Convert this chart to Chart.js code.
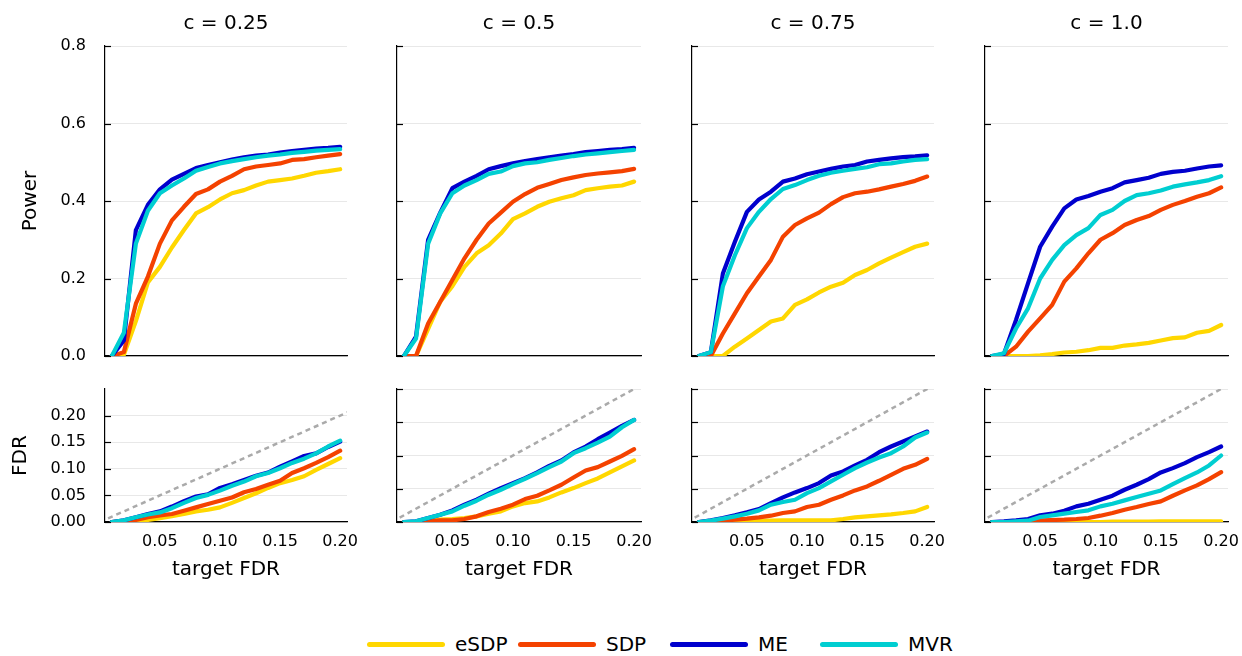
<!DOCTYPE html>
<html>
<head>
<meta charset="utf-8">
<script src="https://cdn.jsdelivr.net/npm/chart.js@4.4.1/dist/chart.umd.min.js"></script>
<style>
    body { margin: 0; background: #fff; }
    #page { position: relative; width: 1242px; height: 656px; overflow: hidden; font-family: 'DejaVu Sans', sans-serif; }
    #page canvas { position: absolute; }
    .leg-item { position: absolute; top: 630px; height: 28px; display: flex; align-items: center; font-size: 20px; color: #000; }
    .leg-line { width: 78px; height: 5px; border-radius: 3px; margin-right: 10px; }
</style>
</head>
<body>
<div id="page"></div>
<script>
// ---- data ----
const targetFdr = [0.01, 0.02, 0.03, 0.04, 0.05, 0.06, 0.07, 0.08, 0.09, 0.10,
                   0.11, 0.12, 0.13, 0.14, 0.15, 0.16, 0.17, 0.18, 0.19, 0.20];
const panelTitles = ['c = 0.25', 'c = 0.5', 'c = 0.75', 'c = 1.0'];
const methods = ['eSDP', 'SDP', 'ME', 'MVR'];
const methodColors = ['#ffd700', '#f44200', '#0000cd', '#00ced1'];

const xTicks = [0.05, 0.10, 0.15, 0.20];
const powerTicks = [0, 0.2, 0.4, 0.6, 0.8];
const fdrTicks = [0, 0.05, 0.10, 0.15, 0.20];
const fdrMax = [0.25, 0.2, 0.2, 0.2];

// one row per c value
const powerESDP = [
    [0, 0.003, 0.09, 0.19, 0.23, 0.28, 0.325, 0.368, 0.384, 0.404, 0.42, 0.428, 0.44, 0.45, 0.454, 0.458, 0.465, 0.473, 0.477, 0.482],
    [0, 0, 0.07, 0.14, 0.18, 0.23, 0.265, 0.286, 0.316, 0.353, 0.368, 0.385, 0.398, 0.407, 0.415, 0.428, 0.433, 0.437, 0.44, 0.45],
    [0, 0, 0, 0.024, 0.045, 0.067, 0.089, 0.097, 0.132, 0.146, 0.164, 0.179, 0.189, 0.209, 0.222, 0.239, 0.254, 0.268, 0.282, 0.29],
    [0, 0, 0, 0, 0.002, 0.005, 0.009, 0.011, 0.015, 0.021, 0.021, 0.027, 0.03, 0.034, 0.04, 0.046, 0.048, 0.06, 0.065, 0.08]
];
const powerSDP = [
    [0, 0.01, 0.135, 0.205, 0.29, 0.35, 0.385, 0.418, 0.43, 0.45, 0.465, 0.482, 0.489, 0.493, 0.497, 0.506, 0.508, 0.513, 0.517, 0.521],
    [0, 0, 0.084, 0.14, 0.196, 0.252, 0.30, 0.342, 0.37, 0.398, 0.418, 0.434, 0.444, 0.454, 0.461, 0.467, 0.471, 0.474, 0.477, 0.483],
    [0, 0, 0.058, 0.11, 0.162, 0.205, 0.248, 0.308, 0.338, 0.355, 0.37, 0.392, 0.41, 0.42, 0.424, 0.43, 0.437, 0.444, 0.452, 0.463],
    [0, 0, 0.024, 0.063, 0.097, 0.132, 0.192, 0.226, 0.265, 0.30, 0.317, 0.338, 0.351, 0.361, 0.377, 0.39, 0.40, 0.411, 0.42, 0.435]
];
const powerME = [
    [0, 0.04, 0.325, 0.39, 0.43, 0.455, 0.47, 0.485, 0.493, 0.50, 0.507, 0.513, 0.517, 0.52, 0.525, 0.529, 0.532, 0.535, 0.537, 0.54],
    [0, 0.05, 0.30, 0.37, 0.433, 0.45, 0.465, 0.482, 0.49, 0.497, 0.503, 0.508, 0.513, 0.517, 0.521, 0.526, 0.529, 0.532, 0.534, 0.537],
    [0, 0.01, 0.213, 0.295, 0.372, 0.404, 0.424, 0.45, 0.458, 0.469, 0.476, 0.483, 0.489, 0.493, 0.502, 0.506, 0.51, 0.513, 0.515, 0.518],
    [0, 0.005, 0.093, 0.188, 0.282, 0.334, 0.381, 0.404, 0.413, 0.424, 0.433, 0.448, 0.454, 0.46, 0.47, 0.475, 0.478, 0.484, 0.489, 0.492]
];
const powerMVR = [
    [0, 0.06, 0.29, 0.375, 0.42, 0.44, 0.458, 0.478, 0.488, 0.497, 0.503, 0.508, 0.513, 0.517, 0.52, 0.524, 0.527, 0.53, 0.532, 0.534],
    [0, 0.045, 0.29, 0.368, 0.42, 0.44, 0.454, 0.47, 0.476, 0.49, 0.497, 0.50, 0.506, 0.511, 0.516, 0.52, 0.523, 0.526, 0.529, 0.532],
    [0, 0.01, 0.18, 0.26, 0.33, 0.372, 0.405, 0.431, 0.441, 0.454, 0.465, 0.473, 0.478, 0.483, 0.487, 0.495, 0.497, 0.502, 0.506, 0.508],
    [0, 0.007, 0.071, 0.123, 0.20, 0.248, 0.286, 0.312, 0.33, 0.364, 0.377, 0.40, 0.415, 0.42, 0.427, 0.437, 0.443, 0.448, 0.454, 0.464]
];

const fdrESDP = [
    [0, 0, 0.001, 0.004, 0.007, 0.011, 0.015, 0.02, 0.023, 0.0275, 0.036, 0.045, 0.054, 0.064, 0.073, 0.079, 0.086, 0.098, 0.109, 0.12],
    [0, 0, 0.001, 0.0035, 0.0045, 0.006, 0.0085, 0.0125, 0.016, 0.0235, 0.0285, 0.031, 0.037, 0.0445, 0.051, 0.0585, 0.0655, 0.0745, 0.0835, 0.0925],
    [0, 0, 0.0005, 0.001, 0.0015, 0.002, 0.002, 0.0025, 0.0025, 0.0025, 0.0025, 0.0025, 0.0045, 0.007, 0.0085, 0.01, 0.0115, 0.0135, 0.016, 0.0225],
    [0, 0, 0, 0, 0, 0, 0, 0, 0, 0, 0.0005, 0.0005, 0.0005, 0.0005, 0.001, 0.001, 0.001, 0.001, 0.001, 0.001]
];
const fdrSDP = [
    [0, 0.001, 0.004, 0.009, 0.0125, 0.015, 0.021, 0.0275, 0.034, 0.04, 0.046, 0.056, 0.062, 0.07, 0.0775, 0.092, 0.101, 0.111, 0.122, 0.134],
    [0, 0, 0.001, 0.0025, 0.0025, 0.0045, 0.0085, 0.015, 0.02, 0.026, 0.0345, 0.0395, 0.0475, 0.056, 0.067, 0.0775, 0.0825, 0.091, 0.0995, 0.1095],
    [0, 0.0005, 0.002, 0.0035, 0.005, 0.007, 0.0095, 0.0135, 0.016, 0.0225, 0.026, 0.0335, 0.04, 0.0475, 0.0535, 0.062, 0.071, 0.08, 0.086, 0.095],
    [0, 0, 0.0005, 0.001, 0.0025, 0.003, 0.0035, 0.0045, 0.006, 0.0095, 0.0135, 0.0185, 0.0225, 0.027, 0.031, 0.0395, 0.0475, 0.055, 0.0645, 0.075]
];
const fdrME = [
    [0, 0.003, 0.009, 0.015, 0.02, 0.029, 0.039, 0.048, 0.052, 0.064, 0.071, 0.079, 0.087, 0.093, 0.104, 0.114, 0.124, 0.129, 0.141, 0.151],
    [0, 0.001, 0.006, 0.011, 0.0175, 0.026, 0.0335, 0.0425, 0.051, 0.0585, 0.066, 0.0745, 0.0845, 0.0925, 0.1045, 0.1135, 0.1245, 0.1345, 0.1445, 0.1535],
    [0, 0.0025, 0.006, 0.01, 0.0145, 0.0195, 0.0285, 0.037, 0.0445, 0.051, 0.0585, 0.07, 0.076, 0.085, 0.0935, 0.105, 0.1135, 0.121, 0.1285, 0.136],
    [0, 0.001, 0.0025, 0.0045, 0.01, 0.0125, 0.017, 0.0235, 0.0275, 0.0335, 0.0395, 0.0485, 0.056, 0.0645, 0.0745, 0.081, 0.0885, 0.0975, 0.105, 0.1135]
];
const fdrMVR = [
    [0, 0.003, 0.009, 0.014, 0.018, 0.026, 0.036, 0.045, 0.051, 0.059, 0.068, 0.076, 0.086, 0.092, 0.101, 0.111, 0.119, 0.129, 0.142, 0.153],
    [0, 0.001, 0.006, 0.011, 0.016, 0.0245, 0.032, 0.041, 0.0485, 0.057, 0.065, 0.0735, 0.0825, 0.091, 0.1035, 0.111, 0.1195, 0.1285, 0.1425, 0.1535],
    [0, 0.002, 0.005, 0.0085, 0.0125, 0.0175, 0.026, 0.03, 0.0335, 0.0435, 0.051, 0.061, 0.071, 0.081, 0.0895, 0.097, 0.1035, 0.1135, 0.127, 0.1345],
    [0, 0, 0.001, 0.002, 0.0075, 0.01, 0.0125, 0.015, 0.0175, 0.0235, 0.0275, 0.0325, 0.0375, 0.0425, 0.0475, 0.057, 0.066, 0.0745, 0.085, 0.10]
];

const powerSeries = [powerESDP, powerSDP, powerME, powerMVR];
const fdrSeries = [fdrESDP, fdrSDP, fdrME, fdrMVR];

// ---- layout ----
const plotLeft = [105, 397, 692, 985];
const plotRight = [347, 641, 934, 1228];
const X_MIN = 0.0043, X_MAX = 0.2057;

Chart.defaults.font.family = "'DejaVu Sans', sans-serif";
Chart.defaults.color = '#000';

// ticks on the y axis point inwards, like the original
const innerTicks = {
    id: 'innerTicks',
    afterDraw(chart) {
        const y = chart.scales.y;
        const ctx = chart.ctx;
        const x0 = chart.chartArea.left;
        ctx.save();
        ctx.strokeStyle = '#000';
        ctx.lineWidth = 1.2;
        y.ticks.forEach(t => {
            const py = Math.round(y.getPixelForValue(t.value)) + 0.5;
            ctx.beginPath();
            ctx.moveTo(x0, py);
            ctx.lineTo(x0 + 6, py);
            ctx.stroke();
        });
        ctx.restore();
    }
};

function buildPanel(row, col) {
    const page = document.getElementById('page');
    const isTop = row === 0;
    const first = col === 0;

    // y-axis box width sets where the plot area starts
    let yBox = 10;
    if (first) yBox = isTop ? plotLeft[0] - 19 : plotLeft[0] - 9;
    const padRight = 26;
    const canvasLeft = plotLeft[col] - yBox;
    const canvasWidth = plotRight[col] - canvasLeft + padRight;
    // room above/below the plot area must exceed the y-label padding (~29px),
    // so the canvases overlap a little in their empty margins
    const canvasTop = isTop ? 0 : 357;
    const canvasHeight = isTop ? 388 : 225;
    const xBox = isTop ? 32 : 60;
    const topPad = isTop ? 0 : 32;

    const canvas = document.createElement('canvas');
    canvas.width = canvasWidth;
    canvas.height = canvasHeight;
    canvas.style.left = canvasLeft + 'px';
    canvas.style.top = canvasTop + 'px';
    page.appendChild(canvas);

    const series = isTop ? powerSeries : fdrSeries;
    const datasets = methods.map((m, i) => ({
        label: m,
        data: targetFdr.map((x, k) => ({ x: x, y: series[i][col][k] })),
        borderColor: methodColors[i],
        borderWidth: 4.2,
        borderJoinStyle: 'round',
        borderCapStyle: 'round',
        pointRadius: 0,
        tension: 0,
        order: 4 - i
    }));
    if (!isTop) {
        datasets.push({
            label: 'target',
            data: [{ x: 0, y: 0 }, { x: 0.25, y: 0.25 }],
            borderColor: '#aaaaaa',
            borderWidth: 2.5,
            borderDash: [5, 4],
            pointRadius: 0,
            order: 10
        });
    }

    const yTicks = isTop ? powerTicks : fdrTicks;

    new Chart(canvas, {
        type: 'line',
        data: { datasets },
        plugins: [innerTicks],
        options: {
            responsive: false,
            animation: false,
            devicePixelRatio: 1,
            layout: { padding: { left: 0, right: padRight, top: topPad, bottom: 0 } },
            plugins: {
                legend: { display: false },
                tooltip: { enabled: false },
                title: {
                    display: isTop,
                    text: panelTitles[col],
                    fullSize: false,
                    font: { size: 20, weight: 'normal' },
                    padding: { top: 12, bottom: 10 }
                }
            },
            scales: {
                x: {
                    type: 'linear',
                    min: X_MIN,
                    max: X_MAX,
                    afterBuildTicks: s => { s.ticks = xTicks.map(v => ({ value: v })); },
                    afterFit: s => { s.height = xBox; },
                    grid: { display: false, drawTicks: false },
                    border: { display: true, color: '#000', width: 1.2 },
                    ticks: {
                        display: !isTop,
                        maxRotation: 0,
                        autoSkip: false,
                        padding: 10,
                        font: { size: 16 },
                        callback: v => v.toFixed(2)
                    },
                    title: {
                        display: !isTop,
                        text: 'target FDR',
                        font: { size: 20 },
                        padding: 0
                    }
                },
                y: {
                    type: 'linear',
                    min: 0,
                    max: isTop ? 0.8 : fdrMax[col],
                    afterBuildTicks: s => { s.ticks = yTicks.map(v => ({ value: v })); },
                    afterFit: s => { s.width = yBox; },
                    grid: { color: '#e8e8e8', lineWidth: 1, drawTicks: false },
                    border: { display: true, color: '#000', width: 1.2 },
                    ticks: {
                        display: first,
                        padding: 19,
                        font: { size: 16 },
                        callback: v => v.toFixed(isTop ? 1 : 2)
                    },
                    title: {
                        display: first,
                        text: isTop ? 'Power' : 'FDR',
                        font: { size: 20 },
                        padding: 0
                    }
                }
            }
        }
    });
}

for (let r = 0; r < 2; r++) {
    for (let c = 0; c < 4; c++) buildPanel(r, c);
}

// legend along the bottom
const legendLeft = [367, 518, 670, 820];
methods.forEach((m, i) => {
    const item = document.createElement('div');
    item.className = 'leg-item';
    item.style.left = legendLeft[i] + 'px';
    item.innerHTML = `<span class="leg-line" style="background:${methodColors[i]}"></span><span>${m}</span>`;
    document.getElementById('page').appendChild(item);
});
</script>
</body>
</html>
